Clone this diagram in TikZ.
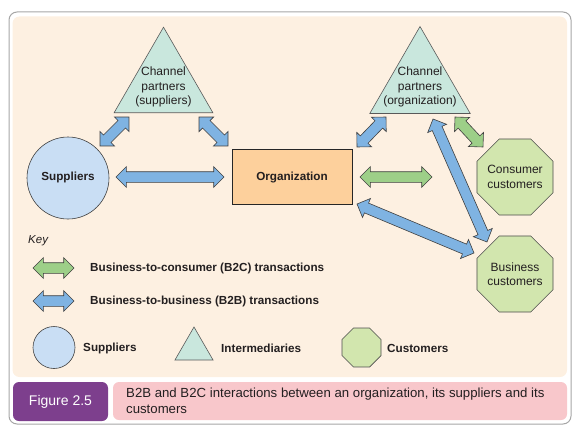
\documentclass[tikz,border=0pt]{standalone}
\usepackage{fontspec}
\setmainfont{Liberation Sans}
\usetikzlibrary{shapes.geometric,shapes.arrows,calc}
\definecolor{beigebg}{HTML}{FDF0E1}
\definecolor{mint}{HTML}{C9E7DD}
\definecolor{suppblue}{HTML}{C9DEF4}
\definecolor{orgorange}{HTML}{FDD09C}
\definecolor{custgreen}{HTML}{D2E6AE}
\definecolor{arrblue}{HTML}{7FB3E2}
\definecolor{arrgreen}{HTML}{9DCF88}
\definecolor{figpurple}{HTML}{7D3F8D}
\definecolor{cappink}{HTML}{F8C7CB}
\definecolor{txt}{HTML}{231F20}
\newcommand\fatarrow[4]{%
  \path let \p1=($(#2)-(#1)$), \n1={veclen(\x1,\y1)}, \n2={atan2(\y1,\x1)} in
    node[dbl, fill=#3, minimum height=\n1, rotate=\n2] (#4) at ($(#1)!0.5!(#2)$) {};}
\begin{document}
\begin{tikzpicture}[x=1pt,y=-1pt,
  dbl/.style={double arrow, draw=black!75, line width=0.6pt, inner xsep=0pt, inner ysep=5pt,
    text height=0pt, text depth=0pt, text width=0pt, outer sep=0pt,
    double arrow head extend=5pt, double arrow tip angle=90, minimum width=20pt},
  tri/.style={regular polygon, regular polygon sides=3, inner sep=0pt, outer sep=0pt,
    fill=mint, draw=black!65, line width=0.6pt},
  octa/.style={regular polygon, regular polygon sides=8, inner sep=0pt, outer sep=0pt,
    fill=custgreen, draw=black!70, line width=0.6pt},
  lbl/.style={font=\fontsize{12}{14.5}\selectfont, text=txt, align=center, inner sep=0pt},
  blbl/.style={font=\fontsize{11.7}{14}\selectfont\bfseries, text=txt, inner sep=0pt},
  keytxt/.style={font=\fontsize{11.7}{14}\selectfont\bfseries, text=txt, anchor=west, inner sep=0pt}]
\useasboundingbox (0,0) rectangle (577,436);
% frame
\draw[black!35, line width=1pt, rounded corners=8pt] (9,12) rectangle (571,424);
\fill[beigebg, rounded corners=7pt] (12.5,16.5) rectangle (567,377);
% main nodes
\node[tri, minimum size=114pt] (cpS) at (163.5,84.2) {};
\node[lbl] (cpStxt) at (163.5,87) {Channel\\partners\\(suppliers)};
\node[tri, minimum size=116pt] (cpO) at (420,84.5) {};
\node[lbl] (cpOtxt) at (420,87) {Channel\\partners\\(organization)};
\node[circle, draw=black!75, fill=suppblue, line width=0.6pt, minimum size=82pt, inner sep=0pt] (supp) at (68,178) {};
\node[blbl] (supptxt) at (68,177) {Suppliers};
\node[draw=black!85, fill=orgorange, line width=0.7pt, minimum width=120pt, minimum height=55pt, inner sep=0pt] (org) at (292,176.5) {};
\node[blbl] (orgtxt) at (292,177) {Organization};
\node[octa, minimum size=82.3pt] (cons) at (515,177) {};
\node[lbl] (constxt) at (515,177) {Consumer\\customers};
\node[octa, minimum size=82.3pt] (bus) at (515,274) {};
\node[lbl] (bustxt) at (515,274) {Business\\customers};
% arrow end points
\coordinate (e1a) at (116,177); \coordinate (e1b) at (224,177);
\coordinate (e2a) at (100,146); \coordinate (e2b) at (129,117);
\coordinate (e3a) at (199,117); \coordinate (e3b) at (228,146);
\coordinate (e4a) at (357,147); \coordinate (e4b) at (386,117);
\coordinate (e5a) at (455,117); \coordinate (e5b) at (483,147);
\coordinate (e6a) at (360,177); \coordinate (e6b) at (432,177);
\coordinate (e7a) at (433,119); \coordinate (e7b) at (487,242);
\coordinate (e8a) at (357,204); \coordinate (e8b) at (474,253);
\fatarrow{e1a}{e1b}{arrblue}{ar1}
\fatarrow{e2a}{e2b}{arrblue}{ar2}
\fatarrow{e3a}{e3b}{arrblue}{ar3}
\fatarrow{e4a}{e4b}{arrblue}{ar4}
\fatarrow{e5a}{e5b}{arrgreen}{ar5}
\fatarrow{e6a}{e6b}{arrgreen}{ar6}
\fatarrow{e7a}{e7b}{arrblue}{ar7}
\fatarrow{e8a}{e8b}{arrblue}{ar8}
% key
\node[anchor=west, inner sep=0pt, text=txt, font=\fontsize{11.5}{14}\selectfont\itshape] (key) at (28,241) {Key};
\coordinate (k1a) at (33,268); \coordinate (k1b) at (74,268);
\coordinate (k2a) at (33,301); \coordinate (k2b) at (74,301);
\fatarrow{k1a}{k1b}{arrgreen}{kar1}
\fatarrow{k2a}{k2b}{arrblue}{kar2}
\node[keytxt] (k1txt) at (90,268) {Business-to-consumer (B2C) transactions};
\node[keytxt] (k2txt) at (90,301) {Business-to-business (B2B) transactions};
\node[circle, draw=black!75, fill=suppblue, line width=0.6pt, minimum size=42pt, inner sep=0pt] (ksupp) at (54,347.5) {};
\node[keytxt] (ksupptxt) at (83,348) {Suppliers};
\node[tri, minimum size=44pt] (ktri) at (194,349) {};
\node[keytxt] (ktritxt) at (221,348) {Intermediaries};
\node[octa, minimum size=42.2pt] (koct) at (361.5,347.5) {};
\node[keytxt] (kocttxt) at (387,348) {Customers};
% caption
\fill[figpurple, rounded corners=6pt] (13,382) rectangle (108,421);
\node[text=white, inner sep=0pt, font=\fontsize{14}{16}\selectfont] (fig) at (60.5,401.5) {Figure 2.5};
\fill[cappink, rounded corners=6pt] (113,382) rectangle (567,420);
\node[anchor=west, align=left, inner sep=0pt, text=txt, font=\fontsize{13.2}{16}\selectfont] (cap) at (126,401) {B2B and B2C interactions between an organization, its suppliers and its\\customers};
\end{tikzpicture}
\end{document}
